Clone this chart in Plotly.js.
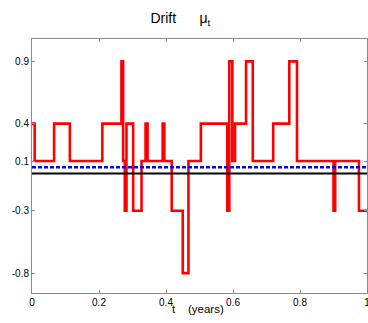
<!DOCTYPE html>
<html>
<head>
<meta charset="utf-8">
<script src="https://cdn.plot.ly/plotly-3.0.1.min.js"></script>
<style>html,body{margin:0;padding:0;background:#fff;}#chart{width:368px;height:323px;}</style>
</head>
<body>
<div id="chart"></div>
<script>
// Jump times (years) and drift level that starts at each time
const t = [0, 0.008, 0.066, 0.113, 0.210, 0.267, 0.272, 0.277, 0.282, 0.302, 0.327, 0.339, 0.345, 0.390, 0.395, 0.417, 0.450, 0.467, 0.504, 0.583, 0.589, 0.598, 0.606, 0.639, 0.659, 0.720, 0.768, 0.791, 0.900, 0.905, 0.976, 1.0];
const mu = [0.4, 0.1, 0.4, 0.1, 0.4, 0.9, 0.1, -0.3, 0.4, -0.3, 0.1, 0.4, 0.1, 0.4, 0.1, -0.3, -0.8, 0.1, 0.4, -0.3, 0.9, 0.1, 0.4, 0.9, 0.1, 0.4, 0.9, 0.1, -0.3, 0.1, -0.3, -0.3];
// Horizontal reference levels
const spanT = [0, 1];
const zeroLevel = [0, 0];
const meanLevel = [0.05, 0.05];
// Tick labels
const xTicks = [0, 0.2, 0.4, 0.6, 0.8, 1];
const xTickText = ['0', '0.2', '0.4', '0.6', '0.8', '1'];
const yTicks = [-0.8, -0.3, 0.1, 0.4, 0.9];
const yTickText = ['-0.8', '-0.3', '0.1', '0.4', '0.9'];

const font = 'Liberation Sans, Arial, sans-serif';
const data = [
  {x: t, y: mu, mode: 'lines', line: {shape: 'hv', color: '#ff0000', width: 2.6}, hoverinfo: 'skip'},
  {x: spanT, y: zeroLevel, mode: 'lines', line: {color: '#000000', width: 2}, hoverinfo: 'skip'},
  {x: spanT, y: meanLevel, mode: 'lines', line: {color: '#0000ff', width: 2.5, dash: '4px,2px'}, hoverinfo: 'skip'}
];
const axisCommon = {
  showgrid: false, zeroline: false, showline: true, linecolor: '#8a8a8a', linewidth: 1,
  mirror: 'ticks', ticks: 'inside', ticklen: 3, tickcolor: '#8a8a8a', tickwidth: 1,
  tickfont: {family: font, size: 10, color: '#000'}, ticklabeloverflow: 'allow'
};
const layout = {
  width: 368, height: 323,
  margin: {l: 32, r: 1, t: 39, b: 30},
  paper_bgcolor: '#fff', plot_bgcolor: '#fff',
  showlegend: false,
  title: {text: 'Drift&nbsp;&nbsp;&nbsp;&nbsp;&nbsp;&nbsp;μ<sub>t</sub>', font: {family: font, size: 14, color: '#000'}, x: 0.443, xref: 'paper', xanchor: 'center', y: 0.945, yanchor: 'middle'},
  xaxis: Object.assign({}, axisCommon, {range: [0, 1], tickvals: xTicks, ticktext: xTickText}),
  yaxis: Object.assign({}, axisCommon, {range: [-0.96, 1.08], tickvals: yTicks, ticktext: yTickText}),
  annotations: [{
    text: 't&nbsp;&nbsp;&nbsp;&nbsp;(years)', xref: 'paper', yref: 'paper', x: 0.495, y: -0.062,
    xanchor: 'center', yanchor: 'middle', showarrow: false, font: {family: font, size: 11.5, color: '#000'}
  }]
};
Plotly.newPlot('chart', data, layout, {staticPlot: true, displayModeBar: false});
</script>
</body>
</html>
